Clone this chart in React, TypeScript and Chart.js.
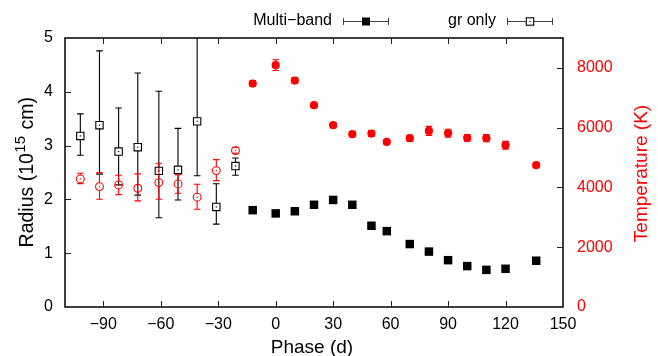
import React, { useEffect, useRef } from "react";
import { Chart, registerables } from "chart.js";

Chart.register(...registerables);

const FONT = "'Liberation Sans', Arial, Helvetica, sans-serif";
const RED = "#ff0000";

// Tick values
const xTicks = [-90, -60, -30, 0, 30, 60, 90, 120, 150];
const yTicks = [0, 1, 2, 3, 4, 5];
const y2Ticks = [0, 2000, 4000, 6000, 8000];

// gr only (open symbols)
const grPhase = [-102, -92, -82, -72, -61, -51, -41, -31, -21];
const grRadius = [3.18, 3.38, 2.89, 2.97, 2.53, 2.55, 3.45, 1.86, 2.62];
const grRadiusLo = [2.82, 2.47, 2.27, 2.08, 1.66, 1.99, 2.44, 1.54, 2.45];
const grRadiusHi = [3.59, 4.76, 3.7, 4.35, 4.01, 3.32, 5.4, 2.29, 2.77];
const grTemp = [4285, 4028, 4084, 3973, 4162, 4118, 3673, 4563, 5233];
const grTempLo = [4128, 3606, 3760, 3549, 3606, 3806, 3271, 4229, 5146];
const grTempHi = [4476, 4497, 4409, 4453, 4810, 4430, 4108, 4932, 5347];

// Multi-band (filled symbols)
const mbPhase = [-12, 0, 10, 20, 30, 40, 50, 58, 70, 80, 90, 100, 110, 120, 136];
const mbRadius = [1.8, 1.74, 1.78, 1.9, 1.99, 1.9, 1.51, 1.41, 1.17, 1.03, 0.87, 0.76, 0.69, 0.71, 0.86];
const mbRadiusErr = [0.03, 0.03, 0.03, 0.03, 0.03, 0.03, 0.03, 0.03, 0.03, 0.03, 0.03, 0.03, 0.03, 0.03, 0.03];
const mbTemp = [7476, 8092, 7576, 6752, 6082, 5781, 5803, 5524, 5647, 5892, 5815, 5658, 5647, 5413, 4744];
const mbTempErr = [90, 180, 100, 80, 80, 80, 100, 80, 100, 150, 130, 110, 120, 130, 70];

const fmt = (v: number) => (v < 0 ? "\u2212" + Math.abs(v) : String(v));

const errorBarPlugin = {
  id: "errbars",
  beforeDatasetsDraw(chart: any) {
    const ctx = chart.ctx;
    const area = chart.chartArea;
    const xs = chart.scales.x;
    chart.data.datasets.forEach((ds: any) => {
      const ys = chart.scales[ds.yAxisID];
      ctx.save();
      ctx.strokeStyle = ds.borderColor;
      ctx.lineWidth = 1.1;
      ds.data.forEach((p: any, j: number) => {
        const px = xs.getPixelForValue(p.x);
        const py = ys.getPixelForValue(p.y);
        let hi = ys.getPixelForValue(ds.errHi[j]);
        let lo = ys.getPixelForValue(ds.errLo[j]);
        const hiClip = hi < area.top;
        const loClip = lo > area.bottom;
        hi = Math.max(hi, area.top);
        lo = Math.min(lo, area.bottom);
        const gap = ds.gap || 0;
        ctx.beginPath();
        if (py - gap > hi) {
          ctx.moveTo(px, hi);
          ctx.lineTo(px, py - gap);
        }
        if (py + gap < lo) {
          ctx.moveTo(px, py + gap);
          ctx.lineTo(px, lo);
        }
        const cw = 3.3;
        if (!hiClip) {
          ctx.moveTo(px - cw, hi);
          ctx.lineTo(px + cw, hi);
        }
        if (!loClip) {
          ctx.moveTo(px - cw, lo);
          ctx.lineTo(px + cw, lo);
        }
        ctx.stroke();
      });
      ctx.restore();
    });
  },
  afterDatasetsDraw(chart: any) {
    const ctx = chart.ctx;
    const xs = chart.scales.x;
    chart.data.datasets.forEach((ds: any) => {
      if (!ds.gap) return;
      const ys = chart.scales[ds.yAxisID];
      ctx.save();
      ctx.fillStyle = ds.borderColor;
      ds.data.forEach((p: any) => {
        const px = xs.getPixelForValue(p.x);
        const py = ys.getPixelForValue(p.y);
        ctx.fillRect(px - 0.6, py - 0.6, 1.2, 1.2);
      });
      ctx.restore();
    });
  },
};

const framePlugin = {
  id: "frame",
  afterDraw(chart: any) {
    const ctx = chart.ctx;
    const a = chart.chartArea;
    const xs = chart.scales.x;
    const ys = chart.scales.y;
    const y2 = chart.scales.y2;
    const tl = 6;
    ctx.save();
    ctx.strokeStyle = "#222";
    ctx.lineWidth = 1;
    ctx.beginPath();
    xTicks.forEach((v) => {
      const px = Math.round(xs.getPixelForValue(v)) + 0.5;
      if (px > a.right - 1) return;
      ctx.moveTo(px, a.bottom);
      ctx.lineTo(px, a.bottom - tl);
      ctx.moveTo(px, a.top);
      ctx.lineTo(px, a.top + tl);
    });
    yTicks.forEach((v) => {
      const py = Math.round(ys.getPixelForValue(v)) + 0.5;
      if (py < a.top + 1 || py > a.bottom - 1) return;
      ctx.moveTo(a.left, py);
      ctx.lineTo(a.left + tl, py);
    });
    y2Ticks.forEach((v) => {
      const py = Math.round(y2.getPixelForValue(v)) + 0.5;
      if (py < a.top + 1 || py > a.bottom - 1) return;
      ctx.moveTo(a.right, py);
      ctx.lineTo(a.right - tl, py);
    });
    ctx.stroke();
    ctx.strokeStyle = "#000";
    ctx.lineWidth = 1.5;
    ctx.strokeRect(a.left, a.top, a.right - a.left, a.bottom - a.top);

    // axis titles
    ctx.fillStyle = "#000";
    ctx.font = `19px ${FONT}`;
    ctx.textAlign = "center";
    ctx.textBaseline = "alphabetic";
    ctx.fillText("Phase (d)", 312, 353);

    // left title with superscript
    ctx.save();
    ctx.translate(26, (a.top + a.bottom) / 2);
    ctx.rotate(-Math.PI / 2);
    const p1 = "Radius (10";
    const p2 = "15";
    const p3 = " cm)";
    ctx.font = `19.5px ${FONT}`;
    const w1 = ctx.measureText(p1).width;
    const w3 = ctx.measureText(p3).width;
    ctx.font = `15px ${FONT}`;
    const w2 = ctx.measureText(p2).width + 1;
    let sx = -(w1 + w2 + w3) / 2;
    ctx.textAlign = "left";
    ctx.font = `19.5px ${FONT}`;
    ctx.fillText(p1, sx, 6.5);
    sx += w1 + 0.5;
    ctx.font = `15px ${FONT}`;
    ctx.fillText(p2, sx, -1.5);
    sx += w2;
    ctx.font = `19.5px ${FONT}`;
    ctx.fillText(p3, sx, 6.5);
    ctx.restore();

    // right title
    ctx.save();
    ctx.translate(640, (a.top + a.bottom) / 2 + 1);
    ctx.rotate(-Math.PI / 2);
    ctx.fillStyle = RED;
    ctx.font = `19px ${FONT}`;
    ctx.textAlign = "center";
    ctx.fillText("Temperature (K)", 0, 6.5);
    ctx.restore();

    // legend
    const ly = 21;
    ctx.font = `16px ${FONT}`;
    ctx.fillStyle = "#000";
    ctx.textAlign = "right";
    ctx.textBaseline = "middle";
    ctx.fillText("Multi\u2212band", 332, ly);
    ctx.fillText("gr only", 496, ly);
    ctx.strokeStyle = "#444";
    ctx.lineWidth = 1;
    const sym = (x0: number, x1: number, cx: number, open: boolean) => {
      const h = open ? 3.7 : 0;
      ctx.strokeStyle = "#444";
      ctx.lineWidth = 1;
      ctx.beginPath();
      ctx.moveTo(x0, ly + 0.5);
      ctx.lineTo(cx - h, ly + 0.5);
      ctx.moveTo(cx + h, ly + 0.5);
      ctx.lineTo(x1, ly + 0.5);
      ctx.moveTo(x0 + 0.5, ly - 3);
      ctx.lineTo(x0 + 0.5, ly + 4);
      ctx.moveTo(x1 - 0.5, ly - 3);
      ctx.lineTo(x1 - 0.5, ly + 4);
      ctx.stroke();
      if (open) {
        ctx.strokeStyle = "#000";
        ctx.lineWidth = 1.1;
        ctx.strokeRect(cx - 3.7, ly + 0.5 - 3.7, 7.4, 7.4);
        ctx.fillStyle = "#000";
        ctx.fillRect(cx - 0.6, ly - 0.1, 1.2, 1.2);
      } else {
        ctx.fillStyle = "#000";
        ctx.fillRect(cx - 4, ly + 0.5 - 4, 8, 8);
      }
    };
    sym(343, 389, 366, false);
    sym(507, 553, 530, true);
    ctx.restore();
  },
};

export default function App() {
  const ref = useRef<HTMLCanvasElement>(null);
  useEffect(() => {
    if (!ref.current) return;
    const chart = new Chart(ref.current, {
      type: "scatter",
      data: {
        datasets: [
          {
            label: "gr only radius",
            data: grPhase.map((x, i) => ({ x, y: grRadius[i] })),
            yAxisID: "y",
            pointStyle: "rect",
            radius: 5.2,
            backgroundColor: "rgba(0,0,0,0)",
            borderColor: "#000",
            borderWidth: 1.1,
            errLo: grRadiusLo,
            errHi: grRadiusHi,
            gap: 3.7,
          } as any,
          {
            label: "gr only temperature",
            data: grPhase.map((x, i) => ({ x, y: grTemp[i] })),
            yAxisID: "y2",
            pointStyle: "circle",
            radius: 3.9,
            backgroundColor: "rgba(0,0,0,0)",
            borderColor: RED,
            borderWidth: 1.1,
            errLo: grTempLo,
            errHi: grTempHi,
            gap: 3.9,
          } as any,
          {
            label: "Multi-band radius",
            data: mbPhase.map((x, i) => ({ x, y: mbRadius[i] })),
            yAxisID: "y",
            pointStyle: "rect",
            radius: 6,
            backgroundColor: "#000",
            borderColor: "#000",
            borderWidth: 0,
            errLo: mbRadius.map((v, i) => v - mbRadiusErr[i]),
            errHi: mbRadius.map((v, i) => v + mbRadiusErr[i]),
            gap: 0,
          } as any,
          {
            label: "Multi-band temperature",
            data: mbPhase.map((x, i) => ({ x, y: mbTemp[i] })),
            yAxisID: "y2",
            pointStyle: "circle",
            radius: 4.1,
            backgroundColor: RED,
            borderColor: RED,
            borderWidth: 0,
            errLo: mbTemp.map((v, i) => v - mbTempErr[i]),
            errHi: mbTemp.map((v, i) => v + mbTempErr[i]),
            gap: 0,
          } as any,
        ],
      },
      options: {
        responsive: false,
        maintainAspectRatio: false,
        devicePixelRatio: 1,
        animation: false,
        layout: { padding: { top: 38, left: 0, right: 0, bottom: 0 } },
        plugins: {
          legend: { display: false },
          tooltip: { enabled: false },
        },
        scales: {
          x: {
            type: "linear",
            position: "bottom",
            min: -110,
            max: 150,
            afterBuildTicks: (s: any) => {
              s.ticks = xTicks.map((v) => ({ value: v }));
            },
            afterFit: (s: any) => {
              s.height = 49;
            },
            grid: { display: false, drawTicks: false },
            border: { display: false },
            ticks: {
              autoSkip: false,
              maxRotation: 0,
              padding: 8,
              color: "#000",
              font: { family: FONT, size: 16 },
              callback: (v: any) => fmt(Number(v)),
            },
          },
          y: {
            type: "linear",
            position: "left",
            min: 0,
            max: 5,
            afterBuildTicks: (s: any) => {
              s.ticks = yTicks.map((v) => ({ value: v }));
            },
            afterFit: (s: any) => {
              s.width = 65;
            },
            grid: { display: false, drawTicks: false },
            border: { display: false },
            ticks: {
              padding: 12,
              color: "#000",
              font: { family: FONT, size: 16 },
              callback: (v: any) => fmt(Number(v)),
            },
          },
          y2: {
            type: "linear",
            position: "right",
            min: 0,
            max: 9000,
            afterBuildTicks: (s: any) => {
              s.ticks = y2Ticks.map((v) => ({ value: v }));
            },
            afterFit: (s: any) => {
              s.width = 95;
            },
            grid: { display: false, drawTicks: false },
            border: { display: false },
            ticks: {
              padding: 14,
              color: RED,
              font: { family: FONT, size: 16 },
              callback: (v: any) => String(v),
            },
          },
        },
      } as any,
      plugins: [errorBarPlugin, framePlugin],
    });
    return () => chart.destroy();
  }, []);
  return (
    <div style={{ position: "absolute", left: 0, top: 0, width: 658, height: 356, background: "#fff" }}>
      <canvas ref={ref} width={658} height={356} style={{ width: 658, height: 356 }} />
    </div>
  );
}
